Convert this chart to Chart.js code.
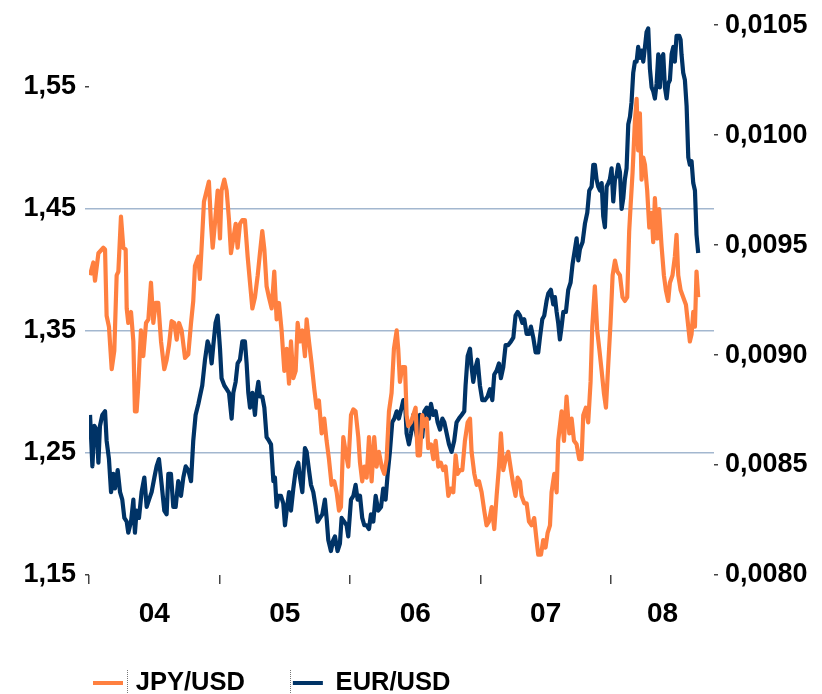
<!DOCTYPE html>
<html>
<head>
<meta charset="utf-8">
<script src="https://cdn.jsdelivr.net/npm/chart.js@4.4.1/dist/chart.umd.min.js"></script>
<style>
  html, body { margin: 0; padding: 0; background: #ffffff; }
  #wrap { width: 822px; height: 694px; position: relative; }
</style>
</head>
<body>
<div id="wrap"><canvas id="c"></canvas></div>
<script>
// ---- DATA ----
const jpyDates = [
2004.008,2004.033,2004.046,2004.072,2004.110,2004.123,2004.135,2004.153,2004.174,2004.194,
2004.212,2004.225,2004.245,2004.263,2004.281,2004.289,2004.301,2004.322,2004.340,2004.352,
2004.365,2004.378,2004.398,2004.416,2004.437,2004.455,2004.475,2004.493,2004.511,2004.531,
2004.552,2004.577,2004.595,2004.613,2004.633,2004.654,2004.672,2004.690,2004.710,2004.736,
2004.761,2004.782,2004.799,2004.812,2004.838,2004.850,2004.868,2004.881,2004.902,2004.919,
2004.935,2004.948,2004.965,2004.986,2005.004,2005.016,2005.037,2005.055,2005.073,2005.088,
2005.106,2005.124,2005.139,2005.157,2005.175,
2005.195,2005.216,2005.234,2005.252,2005.272,2005.293,2005.310,2005.328,2005.344,2005.361,
2005.379,2005.400,2005.420,2005.438,2005.456,2005.476,2005.497,2005.515,2005.533,2005.548,
2005.566,2005.584,2005.599,2005.617,2005.635,2005.655,2005.668,2005.686,2005.706,2005.727,
2005.744,2005.762,2005.783,2005.803,2005.821,2005.839,2005.859,2005.880,2005.898,2005.916,
2005.931,2005.949,2005.967,2005.987,2006.008,2006.026,2006.043,2006.064,2006.077,2006.094,
2006.110,2006.128,2006.146,2006.166,2006.186,2006.204,2006.222,2006.243,2006.263,2006.281,
2006.299,2006.319,2006.337,2006.358,2006.370,2006.383,2006.401,
2006.422,2006.434,2006.447,2006.468,2006.485,2006.503,2006.519,2006.536,2006.554,2006.570,
2006.588,2006.600,2006.621,2006.639,2006.657,2006.677,2006.697,2006.715,2006.733,2006.754,
2006.774,2006.792,2006.810,2006.825,2006.843,2006.861,2006.881,2006.902,2006.920,2006.932,
2006.953,2006.971,2006.989,2007.009,2007.029,2007.047,2007.065,2007.086,2007.106,2007.124,
2007.142,2007.157,2007.175,2007.193,2007.213,2007.234,2007.252,2007.269,2007.285,2007.303,
2007.315,2007.336,2007.354,2007.372,2007.392,2007.412,2007.430,2007.443,2007.464,2007.481,
2007.499,2007.515,2007.533,2007.545,2007.566,2007.584,2007.596,
2007.622,2007.640,2007.660,2007.681,2007.699,2007.717,2007.737,2007.757,2007.775,2007.788,
2007.808,2007.826,2007.844,2007.857,2007.877,2007.895,2007.911,2007.929,2007.946,2007.962,
2007.980,2007.997,2008.013,2008.031,2008.049,2008.069,2008.089,2008.107,2008.125,2008.140,
2008.151,2008.166,2008.184,2008.197,2008.209,2008.222,2008.235,2008.248,2008.261,2008.278,
2008.294,2008.312,2008.324,2008.337,2008.355,2008.370,2008.388,2008.406,2008.421,2008.439,
2008.452,2008.472,2008.490,2008.503,2008.516,2008.534,2008.554,2008.575,2008.593,2008.605,
2008.618,2008.631,2008.644,2008.656,2008.669
];
const jpyValues = [
0.009363,0.009421,0.009338,0.009463,0.009488,0.009480,0.009179,0.009129,0.008936,0.009020,
0.009363,0.009380,0.009630,0.009488,0.009480,0.009212,0.009146,0.009196,0.009062,0.008744,
0.008744,0.008861,0.009112,0.008995,0.009146,0.009162,0.009329,0.009146,0.009237,0.009237,
0.009062,0.008936,0.008978,0.009045,0.009154,0.009146,0.009070,0.009146,0.009112,0.008987,
0.009003,0.009146,0.009246,0.009405,0.009447,0.009346,0.009547,0.009697,0.009748,0.009789,
0.009597,0.009488,0.009597,0.009748,0.009530,0.009748,0.009798,0.009748,0.009614,0.009463,
0.009530,0.009597,0.009488,0.009597,0.009614,
0.009614,0.009447,0.009329,0.009212,0.009263,0.009363,0.009463,0.009564,0.009480,0.009313,
0.009263,0.009212,0.009380,0.009162,0.009237,0.009112,0.008928,0.009028,0.008870,0.009062,
0.008895,0.008928,0.009146,0.009062,0.009112,0.008995,0.009162,0.009062,0.008962,0.008844,
0.008761,0.008794,0.008644,0.008711,0.008610,0.008527,0.008410,0.008426,0.008376,0.008293,
0.008309,0.008627,0.008560,0.008493,0.008727,0.008753,0.008744,0.008627,0.008510,0.008426,
0.008493,0.008443,0.008627,0.008426,0.008627,0.008493,0.008560,0.008493,0.008460,0.008527,
0.008744,0.008828,0.009028,0.009112,0.009028,0.008878,0.008945,
0.008945,0.008727,0.008677,0.008694,0.008727,0.008761,0.008544,0.008544,0.008727,0.008677,
0.008711,0.008577,0.008594,0.008527,0.008610,0.008493,0.008510,0.008477,0.008493,0.008360,
0.008393,0.008376,0.008544,0.008460,0.008477,0.008477,0.008610,0.008694,0.008711,0.008560,
0.008460,0.008410,0.008426,0.008376,0.008293,0.008226,0.008243,0.008309,0.008209,0.008360,
0.008493,0.008644,0.008477,0.008527,0.008560,0.008477,0.008410,0.008360,0.008443,0.008426,
0.008360,0.008326,0.008326,0.008243,0.008226,0.008259,0.008159,0.008092,0.008092,0.008159,
0.008125,0.008192,0.008226,0.008376,0.008460,0.008376,0.008610,
0.008744,0.008610,0.008811,0.008644,0.008711,0.008610,0.008594,0.008527,0.008527,0.008727,
0.008761,0.008694,0.008878,0.009129,0.009313,0.009112,0.009028,0.008928,0.008828,0.008761,
0.008962,0.009146,0.009363,0.009430,0.009380,0.009363,0.009263,0.009246,0.009263,0.009564,
0.009681,0.009831,0.010065,0.010165,0.009931,0.010099,0.009798,0.009898,0.009865,0.009748,
0.009580,0.009647,0.009513,0.009714,0.009530,0.009664,0.009497,0.009363,0.009296,0.009246,
0.009329,0.009363,0.009447,0.009547,0.009363,0.009296,0.009263,0.009229,0.009129,0.009062,
0.009095,0.009196,0.009129,0.009380,0.009263
];
const eurDates = [
2004.008,2004.026,2004.041,2004.059,2004.072,2004.084,2004.102,2004.123,2004.135,2004.153,
2004.169,2004.186,2004.199,2004.220,2004.238,2004.255,2004.271,2004.289,2004.301,2004.322,
2004.340,2004.352,2004.365,2004.383,2004.403,2004.424,2004.442,2004.460,2004.480,2004.501,
2004.518,2004.536,2004.557,2004.577,2004.595,2004.608,2004.628,2004.646,2004.664,2004.684,
2004.705,2004.723,2004.741,2004.761,2004.782,2004.799,2004.817,2004.838,2004.850,2004.868,
2004.889,2004.909,2004.927,2004.940,2004.953,2004.970,2004.986,2005.004,2005.016,2005.037,
2005.055,2005.073,2005.093,2005.106,2005.124,2005.139,2005.157,2005.175,
2005.195,2005.208,2005.221,2005.234,2005.252,2005.272,2005.285,2005.298,2005.310,2005.328,
2005.344,2005.361,2005.379,2005.395,2005.413,2005.425,2005.438,2005.451,2005.471,2005.489,
2005.502,2005.515,2005.533,2005.548,2005.566,2005.584,2005.604,2005.617,2005.635,2005.655,
2005.668,2005.686,2005.701,2005.719,2005.737,2005.752,2005.770,2005.788,2005.808,2005.821,
2005.834,2005.854,2005.872,2005.885,2005.905,2005.923,2005.936,2005.956,2005.974,2005.987,
2006.008,2006.026,2006.043,2006.059,2006.077,2006.094,2006.110,2006.128,2006.146,2006.161,
2006.179,2006.197,2006.217,2006.238,2006.255,2006.273,2006.289,2006.306,2006.324,2006.340,
2006.358,2006.375,2006.396,2006.409,
2006.422,2006.434,2006.452,2006.468,2006.485,2006.503,2006.519,2006.536,2006.554,2006.570,
2006.588,2006.605,2006.621,2006.639,2006.657,2006.672,2006.690,2006.708,2006.723,2006.741,
2006.759,2006.779,2006.799,2006.817,2006.835,2006.856,2006.876,2006.886,2006.902,2006.920,
2006.932,2006.945,2006.963,2006.978,2006.996,2007.014,2007.034,2007.055,2007.073,2007.091,
2007.106,2007.124,2007.142,2007.157,2007.175,2007.193,2007.213,2007.234,2007.252,2007.269,
2007.285,2007.303,2007.321,2007.336,2007.354,2007.372,2007.387,2007.405,2007.423,2007.443,
2007.456,2007.474,2007.489,2007.507,2007.520,2007.540,2007.558,2007.571,2007.584,2007.596,
2007.609,
2007.622,2007.635,2007.655,2007.673,2007.691,2007.706,2007.724,2007.737,2007.750,2007.762,
2007.783,2007.801,2007.819,2007.834,2007.852,2007.865,2007.877,2007.890,2007.903,2007.916,
2007.929,2007.941,2007.954,2007.967,2007.980,2007.992,2008.005,2008.018,2008.031,2008.043,
2008.056,2008.069,2008.082,2008.095,2008.107,2008.120,2008.133,2008.146,2008.158,2008.171,
2008.184,2008.197,2008.209,2008.222,2008.235,2008.248,2008.261,2008.273,2008.286,2008.299,
2008.312,2008.324,2008.337,2008.350,2008.363,2008.375,2008.388,2008.401,2008.414,2008.427,
2008.439,2008.452,2008.465,2008.478,2008.490,2008.503,2008.524,2008.534,2008.541,2008.554,
2008.567,2008.580,2008.593,2008.605,2008.618,2008.631,2008.644,2008.656,2008.669
];
const eurValues = [
1.2810,1.2389,1.2720,1.2690,1.2419,1.2720,1.2810,1.2840,1.2599,1.2449,
1.2178,1.2328,1.2208,1.2358,1.2178,1.2117,1.1967,1.1937,1.1846,1.1937,
1.2117,1.1846,1.2027,1.1967,1.2178,1.2298,1.2057,1.2117,1.2178,1.2298,
1.2389,1.2449,1.2238,1.2027,1.1997,1.2328,1.2328,1.2057,1.2057,1.2268,
1.2148,1.2298,1.2389,1.2358,1.2268,1.2599,1.2810,1.2900,1.2961,1.3051,
1.3262,1.3412,1.3352,1.3232,1.3382,1.3563,1.3623,1.3352,1.3111,1.3051,
1.3021,1.2991,1.2780,1.2991,1.3081,1.3232,1.3262,1.3412,
1.3412,1.3232,1.2991,1.2870,1.2991,1.2810,1.2991,1.3081,1.2961,1.2961,
1.2870,1.2629,1.2599,1.2569,1.2268,1.2298,1.2057,1.2148,1.2148,1.2087,
1.1907,1.2027,1.2178,1.2027,1.2208,1.2358,1.2419,1.2298,1.2178,1.2539,
1.2509,1.2358,1.2238,1.2178,1.2057,1.1937,1.1967,1.1997,1.2117,1.1967,
1.1786,1.1696,1.1786,1.1816,1.1696,1.1756,1.1967,1.1937,1.1907,1.1816,
1.2117,1.2148,1.2238,1.2117,1.2148,1.1967,1.1907,1.1907,1.1876,1.1997,
1.1937,1.2148,1.2027,1.2057,1.2208,1.2117,1.2328,1.2509,1.2750,1.2780,
1.2840,1.2780,1.2870,1.2931,
1.2931,1.2660,1.2569,1.2660,1.2810,1.2690,1.2599,1.2810,1.2629,1.2840,
1.2870,1.2780,1.2900,1.2810,1.2840,1.2750,1.2690,1.2780,1.2750,1.2660,
1.2569,1.2509,1.2599,1.2750,1.2780,1.2810,1.2840,1.3051,1.3292,1.3352,
1.3202,1.3081,1.3202,1.3262,1.3051,1.2931,1.2931,1.2961,1.3021,1.2931,
1.3141,1.3172,1.3232,1.3111,1.3202,1.3382,1.3382,1.3412,1.3443,1.3623,
1.3653,1.3623,1.3563,1.3593,1.3473,1.3473,1.3533,1.3443,1.3322,1.3322,
1.3443,1.3593,1.3623,1.3744,1.3804,1.3834,1.3714,1.3774,1.3653,1.3563,
1.3428,
1.3533,1.3653,1.3653,1.3834,1.3894,1.4045,1.4165,1.4256,1.4075,1.4165,
1.4226,1.4376,1.4467,1.4647,1.4678,1.4858,1.4858,1.4738,1.4678,1.4647,
1.4708,1.4437,1.4346,1.4678,1.4708,1.4738,1.4828,1.4557,1.4738,1.4768,
1.4858,1.4798,1.4497,1.4587,1.4738,1.4828,1.5190,1.5250,1.5370,1.5611,
1.5702,1.5702,1.5822,1.5732,1.5792,1.5702,1.5822,1.5943,1.5973,1.5641,
1.5491,1.5461,1.5400,1.5521,1.5762,1.5491,1.5732,1.5762,1.5491,1.5400,
1.5521,1.5551,1.5762,1.5822,1.5702,1.5913,1.5913,1.5882,1.5762,1.5611,
1.5551,1.5340,1.4918,1.4858,1.4888,1.4708,1.4647,1.4286,1.4135
];
const eurTicks = [1.15, 1.25, 1.35, 1.45, 1.55];
const eurGridValues = [1.25, 1.35, 1.45];
const jpyTicks = [0.0080, 0.0085, 0.0090, 0.0095, 0.0100, 0.0105];
const yearTicks = [2004, 2005, 2006, 2007, 2008];
const yearLabels = ['04', '05', '06', '07', '08'];
const seriesNames = ['JPY/USD', 'EUR/USD'];
const eurRange = [1.15, 1.60];
const jpyRange = [0.0080, 0.0105];
const xRange = [2004, 2008.79];

// ---- build ----
const FONT = '"Liberation Sans", Arial, Helvetica, sans-serif';
const ORANGE = '#ff8040';
const NAVY = '#003366';
const GRID = '#a3b7cf';

// keep the legend box short so it does not squeeze the x-axis label band
try {
  const LegendCls = Chart.registry.getPlugin('legend')._element;
  const origFit = LegendCls.prototype.fit;
  LegendCls.prototype.fit = function () {
    origFit.call(this);
    if (this.options && this.options.display) this.height = 40;
  };
} catch (e) {}

const xTickList = [];
yearTicks.forEach((y, i) => {
  xTickList.push({ value: y, kind: 'mark' });
  const next = i < yearTicks.length - 1 ? yearTicks[i + 1] : xRange[1];
  xTickList.push({ value: (y + next) / 2, kind: 'label', text: yearLabels[i] });
});

const toPts = (xs, ys) => xs.map((x, i) => ({ x: x, y: ys[i] }));

const legendTweak = {
  id: 'legendTweak',
  beforeDraw(chart) {
    const lg = chart.legend;
    if (lg) {
      lg.left = 45;
      lg.top = 622.25;
    }
  },
  afterDraw(chart) {
    const ctx = chart.ctx;
    ctx.save();
    ctx.strokeStyle = '#777';
    ctx.lineWidth = 1;
    ctx.setLineDash([1, 1]);
    [127.5, 290.5].forEach(x => {
      ctx.beginPath();
      ctx.moveTo(x, 670);
      ctx.lineTo(x, 694);
      ctx.stroke();
    });
    ctx.restore();
  }
};

new Chart(document.getElementById('c'), {
  type: 'line',
  data: {
    datasets: [
      {
        label: seriesNames[0],
        data: toPts(jpyDates, jpyValues),
        yAxisID: 'yR',
        borderColor: ORANGE,
        backgroundColor: ORANGE,
        borderWidth: 4.2,
        pointRadius: 0,
        tension: 0,
        borderJoinStyle: 'round'
      },
      {
        label: seriesNames[1],
        data: toPts(eurDates, eurValues),
        yAxisID: 'yL',
        borderColor: NAVY,
        backgroundColor: NAVY,
        borderWidth: 4.2,
        pointRadius: 0,
        tension: 0,
        borderJoinStyle: 'round'
      }
    ]
  },
  options: {
    responsive: true,
    maintainAspectRatio: false,
    animation: false,
    devicePixelRatio: 1,
    layout: { padding: { top: 22.6, left: 0, right: 0, bottom: 0 } },
    plugins: {
      tooltip: { enabled: false },
      legend: {
        position: 'bottom',
        align: 'start',
        labels: {
          font: { family: FONT, size: 25.5, weight: 'bold' },
          color: '#000',
          boxWidth: 30,
          boxHeight: 4,
          padding: 48,
          generateLabels(chart) {
            return chart.data.datasets.map((ds, i) => ({
              text: ds.label,
              fillStyle: ds.borderColor,
              strokeStyle: ds.borderColor,
              lineWidth: 0,
              hidden: false,
              datasetIndex: i,
              fontColor: '#000'
            }));
          }
        }
      }
    },
    scales: {
      x: {
        type: 'linear',
        position: 'bottom',
        min: xRange[0],
        max: xRange[1],
        afterBuildTicks(scale) {
          scale.ticks = xTickList.map(t => ({ value: t.value }));
        },
        afterFit(scale) {
          const lh = scale.chart.legend ? scale.chart.legend.height : 0;
          scale.height = scale.chart.height - 575 - lh;
        },
        ticks: {
          autoSkip: false,
          maxRotation: 0,
          minRotation: 0,
          padding: 13,
          color: '#000',
          font: { family: FONT, size: 28, weight: 'bold' },
          callback(v, i) {
            const t = xTickList[i];
            return t && t.kind === 'label' ? t.text : '';
          }
        },
        grid: {
          drawOnChartArea: false,
          drawTicks: true,
          tickLength: 9,
          lineWidth: 1.5,
          tickColor(ctx) {
            const t = xTickList[ctx.index];
            return t && t.kind === 'mark' ? '#444' : 'rgba(0,0,0,0)';
          }
        },
        border: { display: false }
      },
      yL: {
        type: 'linear',
        position: 'left',
        min: eurRange[0],
        max: eurRange[1],
        afterBuildTicks(scale) {
          scale.ticks = eurTicks.map(v => ({ value: v }));
        },
        afterFit(scale) { scale.width = 89; },
        ticks: {
          padding: 9,
          color: '#000',
          font: { family: FONT, size: 27, weight: 'bold' },
          callback(v) { return Number(v).toFixed(2).replace('.', ','); }
        },
        grid: {
          drawTicks: true,
          tickLength: 4,
          lineWidth: 1.5,
          color(ctx) {
            const v = ctx.tick ? ctx.tick.value : null;
            return eurGridValues.some(g => Math.abs(g - v) < 1e-9) ? GRID : 'rgba(0,0,0,0)';
          },
          tickColor(ctx) {
            const v = ctx.tick ? ctx.tick.value : null;
            return eurGridValues.some(g => Math.abs(g - v) < 1e-9) ? GRID : '#444';
          }
        },
        border: { display: false }
      },
      yR: {
        type: 'linear',
        position: 'right',
        min: jpyRange[0],
        max: jpyRange[1],
        afterBuildTicks(scale) {
          scale.ticks = jpyTicks.map(v => ({ value: v }));
        },
        afterFit(scale) { scale.width = 108; },
        ticks: {
          padding: 7,
          color: '#000',
          font: { family: FONT, size: 27, weight: 'bold' },
          callback(v) { return Number(v).toFixed(4).replace('.', ','); }
        },
        grid: {
          drawOnChartArea: false,
          drawTicks: true,
          tickLength: 4,
          lineWidth: 1.5,
          tickColor: '#444'
        },
        border: { display: false }
      }
    }
  },
  plugins: [legendTweak]
});
</script>
</body>
</html>
